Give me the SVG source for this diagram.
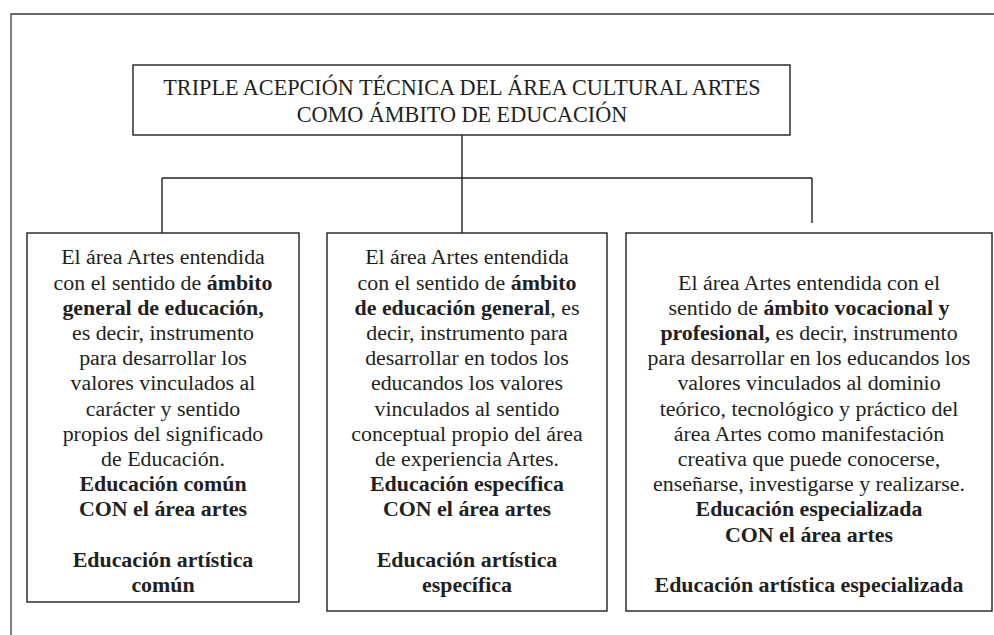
<svg xmlns="http://www.w3.org/2000/svg" width="994" height="635" viewBox="0 0 994 635">
<style>
  .frame{fill:none;stroke:#3a3a3a;stroke-width:1.3}
  .box{fill:#fff;stroke:#231f20;stroke-width:1.4}
  .conn{fill:none;stroke:#231f20;stroke-width:1.4}
  text{font-family:"Liberation Serif","Times New Roman",serif;fill:#231f20;text-anchor:middle}
  .t{font-size:22.2px}
  .b{font-size:21.9px}
  .bold{font-weight:bold}
</style>
<rect width="994" height="635" fill="#fff"/>
<path class="frame" d="M11,635 V14 H994"/>
<g id="connectors">
  <path class="conn" d="M462,135 V233"/>
  <path class="conn" d="M162,178 H812"/>
  <path class="conn" d="M162,178 V233"/>
  <path class="conn" d="M812,178 V223"/>
</g>
<g id="title">
  <rect class="box" x="133" y="65" width="657" height="70"/>
  <text class="t" x="462" y="95">TRIPLE ACEPCIÓN TÉCNICA DEL ÁREA CULTURAL ARTES</text>
  <text class="t" x="462" y="122">COMO ÁMBITO DE EDUCACIÓN</text>
</g>
<g id="box1">
  <rect class="box" x="27" y="233" width="272" height="369"/>
  <text class="b" x="163" y="264.3">El área Artes entendida</text>
  <text class="b" x="163" y="289.5">con el sentido de <tspan class="bold">ámbito</tspan></text>
  <text class="b bold" x="163" y="314.7">general de educación,</text>
  <text class="b" x="163" y="339.9">es decir, instrumento</text>
  <text class="b" x="163" y="365.1">para desarrollar los</text>
  <text class="b" x="163" y="390.3">valores vinculados al</text>
  <text class="b" x="163" y="415.5">carácter y sentido</text>
  <text class="b" x="163" y="440.7">propios del significado</text>
  <text class="b" x="163" y="465.9">de Educación.</text>
  <text class="b bold" x="163" y="491.1">Educación común</text>
  <text class="b bold" x="163" y="516.3">CON el área artes</text>
  <text class="b bold" x="163" y="566.7">Educación artística</text>
  <text class="b bold" x="163" y="591.9">común</text>
</g>
<g id="box2">
  <rect class="box" x="327" y="233" width="280" height="378"/>
  <text class="b" x="467" y="264.3">El área Artes entendida</text>
  <text class="b" x="467" y="289.5">con el sentido de <tspan class="bold">ámbito</tspan></text>
  <text class="b" x="467" y="314.7"><tspan class="bold">de educación general</tspan>, es</text>
  <text class="b" x="467" y="339.9">decir, instrumento para</text>
  <text class="b" x="467" y="365.1">desarrollar en todos los</text>
  <text class="b" x="467" y="390.3">educandos los valores</text>
  <text class="b" x="467" y="415.5">vinculados al sentido</text>
  <text class="b" x="467" y="440.7">conceptual propio del área</text>
  <text class="b" x="467" y="465.9">de experiencia Artes.</text>
  <text class="b bold" x="467" y="491.1">Educación específica</text>
  <text class="b bold" x="467" y="516.3">CON el área artes</text>
  <text class="b bold" x="467" y="566.7">Educación artística</text>
  <text class="b bold" x="467" y="591.9">específica</text>
</g>
<g id="box3">
  <rect class="box" x="626" y="233" width="366" height="378"/>
  <text class="b" x="809" y="289.5">El área Artes entendida con el</text>
  <text class="b" x="809" y="314.7">sentido de <tspan class="bold">ámbito vocacional y</tspan></text>
  <text class="b" x="809" y="339.9"><tspan class="bold">profesional,</tspan> es decir, instrumento</text>
  <text class="b" x="809" y="365.1">para desarrollar en los educandos los</text>
  <text class="b" x="809" y="390.3">valores vinculados al dominio</text>
  <text class="b" x="809" y="415.5">teórico, tecnológico y práctico del</text>
  <text class="b" x="809" y="440.7">área Artes como manifestación</text>
  <text class="b" x="809" y="465.9">creativa que puede conocerse,</text>
  <text class="b" x="809" y="491.1">enseñarse, investigarse y realizarse.</text>
  <text class="b bold" x="809" y="516.3">Educación especializada</text>
  <text class="b bold" x="809" y="541.5">CON el área artes</text>
  <text class="b bold" x="809" y="591.9">Educación artística especializada</text>
</g>
</svg>
